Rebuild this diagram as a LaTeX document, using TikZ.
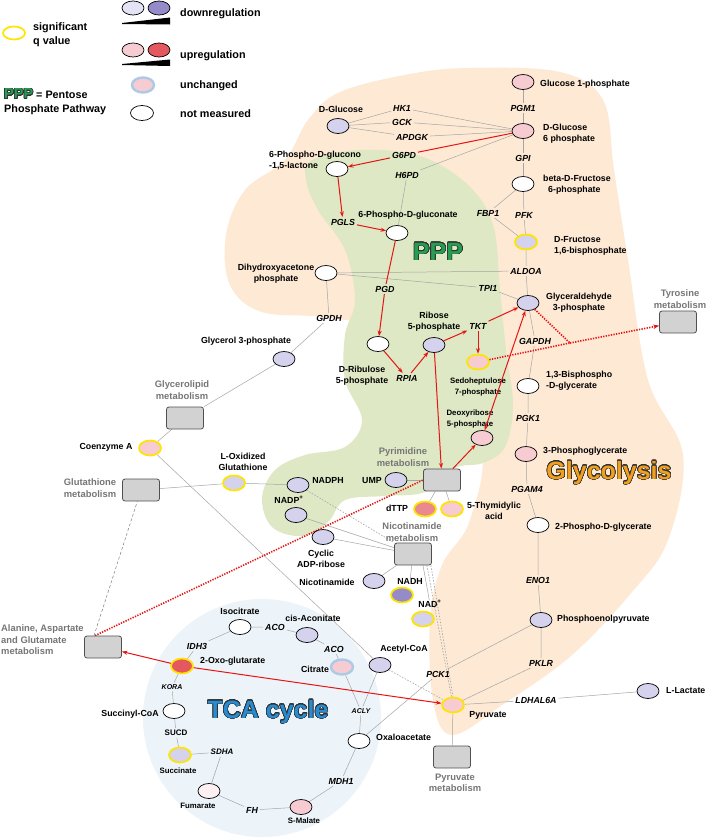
\documentclass[tikz,border=0pt]{standalone}
\usepackage{fontspec}
\setmainfont{Liberation Sans}
\usepackage[copies]{contour}
\contourlength{0.55pt}
\contournumber{32}
\usetikzlibrary{shapes.geometric,arrows.meta}
\definecolor{lav}{RGB}{212,210,236}
\definecolor{lavlight}{RGB}{228,227,245}
\definecolor{purp}{RGB}{148,139,200}
\definecolor{pinkl}{RGB}{246,204,210}
\definecolor{redm}{RGB}{228,88,95}
\definecolor{dttpc}{RGB}{234,136,144}
\definecolor{fumc}{RGB}{252,240,242}
\definecolor{unchb}{RGB}{172,202,230}
\definecolor{sigy}{RGB}{255,228,0}
\definecolor{graytext}{RGB}{118,118,118}
\definecolor{boxfill}{RGB}{210,210,210}
\definecolor{boxdraw}{RGB}{80,80,80}
\definecolor{linegray}{RGB}{165,165,165}
\definecolor{peach}{RGB}{253,233,212}
\definecolor{pgreen}{RGB}{222,232,196}
\definecolor{tcabg}{RGB}{237,244,249}
\definecolor{pppgreen}{RGB}{38,158,82}
\definecolor{glyorange}{RGB}{240,160,30}
\definecolor{tcablue}{RGB}{40,140,210}
\definecolor{outl}{RGB}{50,50,50}
\definecolor{myred}{RGB}{230,20,20}
\newcommand\mlbl{\fontsize{8.8}{10.8}\selectfont\bfseries}
\newcommand\menz{\fontsize{8.8}{10}\selectfont\bfseries\itshape}
\newcommand\menzs{\fontsize{7}{8}\selectfont\bfseries\itshape}
\newcommand\menzu{\fontsize{8}{9}\selectfont\bfseries}
\newcommand\mplbl{\fontsize{9.4}{11.6}\selectfont\bfseries}
\newcommand\mleg{\fontsize{10.8}{14}\selectfont\bfseries}
\newcommand\mbig{\fontsize{25}{28}\selectfont\bfseries}
\newcommand\msmall{\fontsize{7.8}{10.5}\selectfont\bfseries}
\pgfdeclarelayer{bg}
\pgfdeclarelayer{ln}
\pgfsetlayers{bg,ln,main}
\tikzset{
  met/.style={ellipse, minimum width=22pt, minimum height=15pt, inner sep=0pt, draw=black, line width=0.7pt, fill=white},
  dn/.style={met, fill=lav},
  upr/.style={met, fill=pinkl},
  sig/.style={draw=sigy, line width=1.7pt},
  unch/.style={met, fill=pinkl, draw=unchb, line width=2.4pt},
  lbl/.style={font=\mlbl, inner sep=0pt, align=center},
  lbll/.style={lbl, align=left, anchor=west},
  enz/.style={font=\menz, inner sep=1.8pt},
  enzs/.style={font=\menzs, inner sep=1.8pt},
  pbox/.style={rectangle, rounded corners=2.5pt, draw=boxdraw, fill=boxfill, minimum width=37pt, minimum height=22pt, line width=0.8pt, inner sep=0pt},
  plbl/.style={font=\mplbl, text=graytext, align=center, inner sep=0pt},
  gl/.style={draw=linegray, line width=0.5pt},
  gdash/.style={draw=gray, line width=0.5pt, dash pattern=on 3pt off 2pt},
  gdot/.style={draw=linegray, line width=0.6pt, dash pattern=on 1.5pt off 1.5pt},
  ra/.style={draw=myred, line width=1pt, -{Stealth[length=5.5pt,width=4pt]}},
  rab/.style={draw=myred, line width=1pt, {Stealth[length=5.5pt,width=4pt]}-{Stealth[length=5.5pt,width=4pt]}},
  rl/.style={draw=myred, line width=1pt},
  rdot/.style={draw=myred, line width=1.6pt, dash pattern=on 1.3pt off 1.3pt},
}
\begin{document}
\begin{tikzpicture}[x=1pt,y=-1pt]
\useasboundingbox (0,0) rectangle (709,838);
\begin{pgfonlayer}{bg}
\fill[white] (0,0) rectangle (709,838);
\fill[peach] plot[smooth cycle, tension=0.6] coordinates {(470,68) (560,72) (603,100) (614,170) (628,260) (648,380) (683,455) (668,540) (632,592) (572,655) (505,703) (452,735) (433,700) (430,620) (442,565) (470,520) (480,440) (420,340) (330,318) (262,312) (230,285) (226,235) (245,190) (285,160) (308,120) (340,92) (410,74)};
\fill[pgreen] plot[smooth cycle, tension=0.6] coordinates {(312,160) (360,150) (420,156) (468,185) (493,225) (500,290) (506,350) (513,405) (505,447) (483,463) (455,468) (425,492) (385,496) (345,500) (328,522) (302,536) (272,527) (262,498) (275,470) (305,455) (345,447) (362,420) (345,380) (345,335) (355,300) (345,250) (318,210) (306,180)};
\fill[tcabg] (262,718) circle (119);
\end{pgfonlayer}

% ---------- legend ----------
\node[met, sig, minimum height=13pt] (lgsig) at (14,33) {};
\node[lbll, font=\mleg] (lgsigt) at (33,35) {significant\\q value};
\node[met, fill=lavlight, minimum height=14pt] (lgd1) at (133,8) {};
\node[met, fill=purp, minimum height=14pt] (lgd2) at (159,8) {};
\fill (122,23) -- (170,17.5) -- (170,24.5) -- (122,24) -- cycle;
\node[lbll, font=\mleg] (lgdt) at (180,14) {downregulation};
\node[met, fill=pinkl, minimum height=14pt] (lgu1) at (133,50) {};
\node[met, fill=redm, minimum height=14pt] (lgu2) at (159,50) {};
\fill (122,64) -- (170,59.5) -- (170,66) -- (122,65) -- cycle;
\node[lbll, font=\mleg] (lgut) at (180,56) {upregulation};
\node[unch] (lgun) at (143,85) {};
\node[lbll, font=\mleg] (lgunt) at (180,86) {unchanged};
\node[met, minimum height=15pt, minimum width=23pt] (lgnm) at (142,113) {};
\node[lbll, font=\mleg] (lgnmt) at (180,114) {not measured};
\node[lbll, font=\mleg, align=left] (lgppp) at (4,102) {{\fontsize{14.5}{15}\selectfont\color{pppgreen}\contour{outl}{PPP}} = Pentose\\Phosphate Pathway};

% ---------- glycolysis ----------
\node[upr] (glc1p) at (523,82) {};
\node[lbll] (glc1pL) at (540,84) {Glucose 1-phosphate};
\node[enz] (pgm1) at (523,108) {PGM1};
\node[upr] (g6p) at (523,131) {};
\node[lbll] (g6pL) at (543,134) {D-Glucose\\6 phosphate};
\node[enz] (gpi) at (523,158) {GPI};
\node[met] (f6p) at (523,184) {};
\node[lbll] (f6pL) at (543,185) {beta-D-Fructose\\\hspace*{5pt}6-phosphate};
\node[enz] (fbp1) at (488,213) {FBP1};
\node[enz] (pfk) at (524,215) {PFK};
\node[dn, sig] (f16bp) at (526,242) {};
\node[lbll] (f16bpL) at (554,246) {D-Fructose\\1,6-bisphosphate};
\node[enz] (aldoa) at (526,271) {ALDOA};
\node[dn] (gap) at (528,303) {};
\node[lbl, anchor=west] (gapL) at (546,303) {Glyceraldehyde\\3-phosphate};
\node[enz] (tpi1) at (488,288) {TPI1};
\node[enz] (tkt) at (478,326) {TKT};
\node[enz] (gapdh) at (535,341) {GAPDH};
\node[upr, sig] (sed7p) at (478,362) {};
\node[lbl, font=\msmall] (sed7pL) at (478,387) {Sedoheptulose\\7-phosphate};
\node[met] (bpg) at (528,386) {};
\node[lbll] (bpgL) at (546,381) {1,3-Bisphospho\\-D-glycerate};
\node[enz] (pgk1) at (528,418) {PGK1};
\node[upr] (pg3) at (526,454) {};
\node[lbll] (pg3L) at (543,451) {3-Phosphoglycerate};
\node[enz] (pgam4) at (527,489) {PGAM4};
\node[met] (pg2) at (538,525) {};
\node[lbll] (pg2L) at (555,527) {2-Phospho-D-glycerate};
\node[enz] (eno1) at (538,580) {ENO1};
\node[dn] (pep) at (541,620) {};
\node[lbll] (pepL) at (557,619) {Phosphoenolpyruvate};
\node[enz] (pklr) at (541,663) {PKLR};
\node[dn] (lac) at (648,691) {};
\node[lbll] (lacL) at (666,691) {L-Lactate};
\node[enz] (ldh) at (536,700) {LDHAL6A};
\node[upr, sig] (pyr) at (453,705) {};
\node[lbl] (pyrL) at (488,715) {Pyruvate};
\node[enz] (pck1) at (438,674) {PCK1};
\node[pbox] (pyrbox) at (452,757) {};
\node[plbl] (pyrboxL) at (455,783) {Pyruvate\\metabolism};
\node[pbox] (tyrbox) at (678,322) {};
\node[plbl] (tyrboxL) at (680,299) {Tyrosine\\metabolism};
\node[font=\mbig, text=glyorange, inner sep=0pt] (glytxt) at (609,473) {\contour{outl}{Glycolysis}};

% ---------- PPP ----------
\node[dn] (dglc) at (338,126) {};
\node[lbl] (dglcL) at (341,109) {D-Glucose};
\node[enz] (hk1) at (402,108) {HK1};
\node[enz] (gck) at (402,122) {GCK};
\node[enz] (apdgk) at (412,137) {APDGK};
\node[enz] (g6pd) at (404,155) {G6PD};
\node[enz] (h6pd) at (407,175) {H6PD};
\node[met] (lact) at (337,169) {};
\node[lbll] (lactL) at (269,160.5) {6-Phospho-D-glucono\\-1,5-lactone};
\node[enz] (pgls) at (343,222) {PGLS};
\node[met] (pgluc) at (397,233) {};
\node[lbl] (pglucL) at (408,215) {6-Phospho-D-gluconate};
\node[font=\mbig, text=pppgreen, inner sep=0pt] (ppptxt) at (438,252) {\contour{outl}{PPP}};
\node[met] (dhap) at (326,273) {};
\node[lbl] (dhapL) at (276,274) {Dihydroxyacetone\\phosphate};
\node[enz] (pgd) at (385,289) {PGD};
\node[met] (ru5p) at (378,344) {};
\node[lbl] (ru5pL) at (362,376) {D-Ribulose\\5-phosphate};
\node[enz] (rpia) at (407,378) {RPIA};
\node[dn] (r5p) at (434,345) {};
\node[lbl] (r5pL) at (434,322) {Ribose\\5-phosphate};
\node[upr] (dr5p) at (482,438) {};
\node[lbl, font=\msmall] (dr5pL) at (470,419) {Deoxyribose\\5-phosphate};
\node[dn] (glyc3p) at (284,359) {};
\node[lbl] (glyc3pL) at (246,341) {Glycerol 3-phosphate};
\node[enz] (gpdh) at (329,318) {GPDH};
\node[pbox] (glbox) at (185,418) {};
\node[plbl] (glboxL) at (182,390) {Glycerolipid\\metabolism};
\node[upr, sig] (coa) at (150,448) {};
\node[lbl] (coaL) at (106,447) {Coenzyme A};
\node[pbox] (gtbox) at (141,490) {};
\node[plbl] (gtboxL) at (90,488) {Glutathione\\metabolism};
\node[dn, sig] (gssg) at (234,483) {};
\node[lbl] (gssgL) at (243,462) {L-Oxidized\\Glutathione};
\node[dn] (nadph) at (298,485) {};
\node[lbl] (nadphL) at (328,480) {NADPH};
\node[dn] (nadp) at (296,515) {};
\node[lbl] (nadpL) at (289,500) {NADP\textsuperscript{+}};
\node[pbox] (pyrimbox) at (442,480) {};
\node[plbl] (pyrimboxL) at (403,457) {Pyrimidine\\metabolism};
\node[dn] (ump) at (396,480) {};
\node[lbl] (umpL) at (372,481) {UMP};
\node[met, fill=dttpc, sig] (dttp) at (425,509) {};
\node[lbl] (dttpL) at (397,508) {dTTP};
\node[upr, sig] (tmp) at (452,509) {};
\node[lbl] (tmpL) at (494,511) {5-Thymidylic\\acid};
\node[dn] (cadpr) at (323,537) {};
\node[lbl] (cadprL) at (321,559) {Cyclic\\ADP-ribose};
\node[pbox] (nicbox) at (413,554) {};
\node[plbl] (nicboxL) at (412,532) {Nicotinamide\\metabolism};
\node[dn] (nam) at (374,581) {};
\node[lbl] (namL) at (327,582) {Nicotinamide};
\node[met, fill=purp, sig] (nadh) at (402,595) {};
\node[lbl] (nadhL) at (410,581) {NADH};
\node[dn, sig] (nad) at (423,619) {};
\node[lbl] (nadL) at (430,604) {NAD\textsuperscript{+}};

% ---------- TCA ----------
\node[font=\mbig, text=tcablue, inner sep=0pt] (tcatxt) at (268,712) {\contour{outl}{TCA cycle}};
\node[dn] (acoa) at (380,665) {};
\node[lbl] (acoaL) at (404,649) {Acetyl-CoA};
\node[unch] (cit) at (342,667) {};
\node[lbl] (citL) at (315,669) {Citrate};
\node[dn] (cisaco) at (307,635) {};
\node[lbl] (cisacoL) at (313,618) {cis-Aconitate};
\node[met] (icit) at (240,627) {};
\node[lbl] (icitL) at (240,611) {Isocitrate};
\node[enz] (aco1) at (275,627) {ACO};
\node[enz] (aco2) at (334,649) {ACO};
\node[enz] (idh3) at (197,646) {IDH3};
\node[met, fill=redm, sig] (akg) at (182,666) {};
\node[lbll] (akgL) at (200,661) {2-Oxo-glutarate};
\node[pbox] (alabox) at (103,647) {};
\node[plbl, anchor=west, align=left] (alaboxL) at (1,640) {Alanine, Aspartate\\and Glutamate\\metabolism};
\node[enzs] (kora) at (172,687) {KORA};
\node[met] (succoa) at (174,711) {};
\node[lbl] (succoaL) at (130,714) {Succinyl-CoA};
\node[font=\menzu, inner sep=1.8pt] (sucd) at (176,733) {SUCD};
\node[dn, sig] (succ) at (180,755) {};
\node[lbl, font=\msmall] (succL) at (178,771) {Succinate};
\node[font=\fontsize{8}{9}\selectfont\bfseries\itshape, inner sep=1.8pt] (sdha) at (222,752) {SDHA};
\node[met, fill=fumc] (fum) at (209,791) {};
\node[lbl, font=\msmall] (fumL) at (198,806) {Fumarate};
\node[enz] (fh) at (252,810) {FH};
\node[upr] (mal) at (301,807) {};
\node[lbl, font=\msmall] (malL) at (304,821) {S-Malate};
\node[enz] (mdh1) at (341,781) {MDH1};
\node[met] (oaa) at (359,741) {};
\node[lbll] (oaaL) at (376,737) {Oxaloacetate};
\node[enzs] (acly) at (361,711) {ACLY};
\coordinate (jdot) at (570,343);

% ---------- connectors ----------
\begin{pgfonlayer}{ln}
\draw[gl] (glc1p) -- (pgm1) -- (g6p) -- (gpi) -- (f6p);
\draw[gl] (f6p) -- (pfk) -- (f16bp);
\draw[gl] (f6p) -- (fbp1) -- (f16bp);
\draw[gl] (f16bp) -- (aldoa) -- (gap);
\draw[gl] (dhap) -- (aldoa);
\draw[gl] (dhap) -- (tpi1) -- (gap);
\draw[gl] (gap) -- (gapdh) -- (bpg);
\draw[gl] (bpg) -- (pgk1) -- (pg3) -- (pgam4) -- (pg2) -- (eno1) -- (pep) -- (pklr) -- (pyr);
\draw[gl] (pyr) -- (ldh) -- (lac);
\draw[gl] (pyr) -- (pyrbox);
\draw[gl] (oaa) -- (pck1) -- (pep);
\draw[gl] (dglc) -- (hk1) -- (g6p);
\draw[gl] (dglc) -- (gck) -- (g6p);
\draw[gl] (dglc) -- (apdgk) -- (g6p);
\draw[gl] (g6p) -- (h6pd) -- (pgluc);
\draw[gl] (dhap) -- (gpdh) -- (glyc3p) -- (glbox) -- (coa);
\draw[gl] (coa) -- (acoa);
\draw[gl] (gssg) -- (gtbox);
\draw[gl] (gssg) -- (nadph);
\draw[gdot] (nadph) -- (nicbox);
\draw[gl] (nadp) -- (nicbox);
\draw[gl] (cadpr) -- (nicbox);
\draw[gl] (nam) -- (nicbox);
\draw[gl] (nicbox) -- (nadhL);
\draw[gl] (nicbox.south -| nad) -- (nadL);
\draw[gl] (ump) -- (pyrimbox);
\draw[gl] (pyrimbox) -- (dttp);
\draw[gl] (pyrimbox) -- (tmp);
\draw[gl] (icit) -- (aco1) -- (cisaco) -- (aco2) -- (cit);
\draw[gl] (icit) -- (idh3) -- (akg) -- (kora) -- (succoa) -- (sucd) -- (succ) -- (sdha) -- (fum) -- (fh) -- (mal) -- (mdh1) -- (oaa);
\draw[gl] (cit) -- (acly);
\draw[gl] (acoa) -- (acly);
\draw[gl] (acly) -- (oaa);
\draw[gdash] ([xshift=-9pt]alabox.north) -- (gtbox);
\draw[gdot] (acoa) -- (pyr);
\draw[gdot] ([xshift=-5pt]nicbox.south east) -- (pyr);
\draw[gdot] ([xshift=-1pt]nicbox.south east) -- (pyr.north);
\draw[rdot] ([xshift=-8pt]alabox.north) -- (pyrimbox.west);
\end{pgfonlayer}

% red arrows
\draw[rl] (g6p) -- (g6pd);
\draw[ra] (g6pd) -- (lact);
\draw[ra] (lact) -- (pgls);
\draw[ra] (pgls) -- (pgluc);
\draw[rl] (pgluc) -- (pgd);
\draw[ra] (pgd) -- (ru5p);
\draw[ra] (ru5p) -- (rpia);
\draw[ra] (rpia) -- (r5p);
\draw[ra] (r5p) -- (tkt);
\draw[ra] (tkt) -- (gap);
\draw[ra] (tkt) -- (sed7p);
\draw[ra] (r5p) -- (pyrimbox);
\draw[ra] (pyrimbox) -- (dr5p);
\draw[rab] (dr5p) -- (gap);
\draw[rdot] (sed7p) -- (jdot);
\draw[rdot, -{Stealth[length=6pt,width=4.5pt]}] (jdot) -- (tyrbox);
\draw[rdot] (gap) -- (jdot);
\draw[ra] (akg) -- (alabox);
\draw[ra] (akg) -- (pyr);
\end{tikzpicture}
\end{document}
